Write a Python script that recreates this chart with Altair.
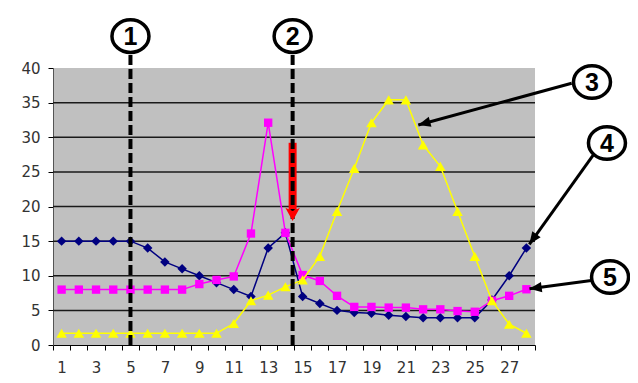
import math
import altair as alt
import pandas as pd

# ---------------- data ----------------
days = list(range(1, 29))
navy_vals = [15, 15, 15, 15, 15, 14, 12, 11, 10, 9, 8, 7, 14, 16.2, 7, 6, 5, 4.7,
             4.6, 4.3, 4.1, 3.95, 3.95, 3.95, 3.95, 6.5, 10, 14]
pink_vals = [8, 8, 8, 8, 8, 8, 8, 8, 8.8, 9.4, 9.9, 16.1, 32.1, 16.2, 10.1, 9.25,
             7.1, 5.5, 5.5, 5.4, 5.4, 5.15, 5.15, 4.9, 4.8, 6.4, 7.1, 8.05]
yellow_vals = [1.7, 1.7, 1.7, 1.7, 1.7, 1.7, 1.7, 1.7, 1.7, 1.7, 3.1, 6.4, 7.2, 8.4,
               9.4, 12.8, 19.3, 25.5, 32.1, 35.4, 35.4, 28.9, 25.8, 19.3, 12.8, 6.4,
               3.0, 1.7]
y_ticks = [0, 5, 10, 15, 20, 25, 30, 35, 40]
grid_lines = [5, 10, 15, 20, 25, 30, 35]
x_tick_pos = [i + 0.5 for i in range(0, 29)]

# annotations (data units)
circle_labels = ["1", "2", "3", "4", "5"]
circle_x = [5, 14.42, 31.81, 32.68, 32.86]
circle_y = [44.6, 44.6, 37.98, 29.17, 9.82]
vline_x = [5, 14.42]
vline_top = 42.3
arrow_sx = [30.63, 31.89, 31.99]
arrow_sy = [37.79, 27.44, 9.39]
arrow_tx = [21.72, 28.17, 28.18]
arrow_ty = [31.77, 14.54, 8.12]
red_x = 14.42
red_top = 29.2
red_bottom = 19.5
red_tip = 17.9

W, H = 482, 277
XDOM = [0.5, 28.5]
YDOM = [0, 40]
PXX = W / (XDOM[1] - XDOM[0])
PXY = H / (YDOM[1] - YDOM[0])

FONT = "Liberation Sans"
AXFONT = "DejaVu Sans"

xscale = alt.Scale(domain=XDOM, nice=False, zero=False)
yscale = alt.Scale(domain=YDOM, nice=False, zero=False)
xaxis = alt.Axis(values=x_tick_pos, title=None, grid=False,
                 labelExpr="(datum.value + 0.5) % 2 == 1 && datum.value < 28 ? '' + (datum.value + 0.5) : ''",
                 labelOffset=PXX / 2, labelOverlap=False, labelFlush=False,
                 tickSize=5, tickColor="#000", domainColor="#000",
                 labelFont=AXFONT, labelFontSize=15, labelColor="#333", labelPadding=10)
yaxis = alt.Axis(values=y_ticks, title=None, grid=False, tickSize=5,
                 tickColor="#000", domainColor="#555",
                 labelFont=AXFONT, labelFontSize=15, labelColor="#333", labelPadding=8)


def X(field):
    return alt.X(field, type="quantitative", scale=xscale, axis=xaxis)


def Y(field):
    return alt.Y(field, type="quantitative", scale=yscale, axis=yaxis)


rows = []
for d, a, b, c in zip(days, navy_vals, pink_vals, yellow_vals):
    rows.append({"x": d, "v": a, "s": "navy"})
    rows.append({"x": d, "v": b, "s": "pink"})
    rows.append({"x": d, "v": c, "s": "yellow"})
df = pd.DataFrame(rows)

grid_df = pd.DataFrame({"g": grid_lines})
grid = alt.Chart(grid_df).mark_rule(color="#1a1a1a", strokeWidth=1.5).encode(y=Y("g"))

series_layers = []
styles = {
    "navy": ("#000080", "diamond", 90),
    "pink": ("#FF00FF", "square", 70),
    "yellow": ("#FFFF00", "triangle-up", 110),
}
for s in ["navy", "pink", "yellow"]:
    col, shp, sz = styles[s]
    sub = df[df["s"] == s]
    ln = alt.Chart(sub).mark_line(color=col, strokeWidth=1.5).encode(x=X("x"), y=Y("v"))
    pt = alt.Chart(sub).mark_point(shape=shp, size=sz, filled=True, color=col, opacity=1).encode(
        x=X("x"), y=Y("v"))
    series_layers += [ln, pt]

# red arrow under the dashed line
red_df = pd.DataFrame({"x": [red_x], "y1": [red_top], "y2": [red_bottom], "yt": [red_tip]})
red_line = alt.Chart(red_df).mark_rule(color="#FF0000", strokeWidth=8).encode(
    x=X("x"), y=Y("y1"), y2="y2")
red_head = alt.Chart(red_df).mark_point(
    shape="M0,0 L-0.55,-1 L0,-0.75 L0.55,-1 Z", size=700, filled=True, color="#FF0000",
    opacity=1).encode(x=X("x"), y=Y("yt"))

# dashed vertical lines
vl_df = pd.DataFrame({"x": vline_x, "y1": [0] * len(vline_x), "y2": [vline_top] * len(vline_x)})
vlines = alt.Chart(vl_df).mark_rule(color="#000", strokeWidth=4, strokeDash=[10, 4]).encode(
    x=X("x"), y=Y("y1"), y2="y2")

# black arrows
ang = []
for sx, sy, tx, ty in zip(arrow_sx, arrow_sy, arrow_tx, arrow_ty):
    dx = (tx - sx) * PXX
    dy = -(ty - sy) * PXY
    ang.append(math.degrees(math.atan2(dx, -dy)) % 360)
ar_df = pd.DataFrame({"sx": arrow_sx, "sy": arrow_sy, "tx": arrow_tx, "ty": arrow_ty, "ang": ang})
ar_lines = alt.Chart(ar_df).mark_rule(color="#000", strokeWidth=3).encode(
    x=X("sx"), y=Y("sy"), x2="tx", y2="ty")
ar_heads = alt.Chart(ar_df).mark_point(
    shape="M0,0 L-0.42,1 L0.42,1 Z", size=600, filled=True, color="#000", opacity=1).encode(
    x=X("tx"), y=Y("ty"), angle=alt.Angle("ang:Q", scale=None))

# numbered circles
c_df = pd.DataFrame({"lab": circle_labels, "x": circle_x, "y": circle_y})
circles = alt.Chart(c_df).mark_point(
    shape="M-1,0 A1,0.88 0 1,1 1,0 A1,0.88 0 1,1 -1,0 Z", size=1369, filled=False,
    fill="#FFFFFF", fillOpacity=1, stroke="#000", strokeWidth=3.5, opacity=1).encode(
    x=X("x"), y=Y("y"))
circle_text = alt.Chart(c_df).mark_text(
    font=FONT, fontSize=25, fontWeight="bold", color="#000", baseline="middle",
    align="center", dy=1).encode(x=X("x"), y=Y("y"), text="lab:N")

chart = alt.layer(
    grid, *series_layers, red_line, vlines, red_head, ar_lines, ar_heads, circles, circle_text
).properties(
    width=W, height=H,
    background="#FFFFFF",
    autosize=alt.AutoSizeParams(type="none"),
    padding={"left": 45, "top": 60, "right": 95, "bottom": 30},
).configure_view(fill="#C0C0C0", strokeWidth=0)

chart.save("out.html", embed_options={"renderer": "svg", "actions": False})
